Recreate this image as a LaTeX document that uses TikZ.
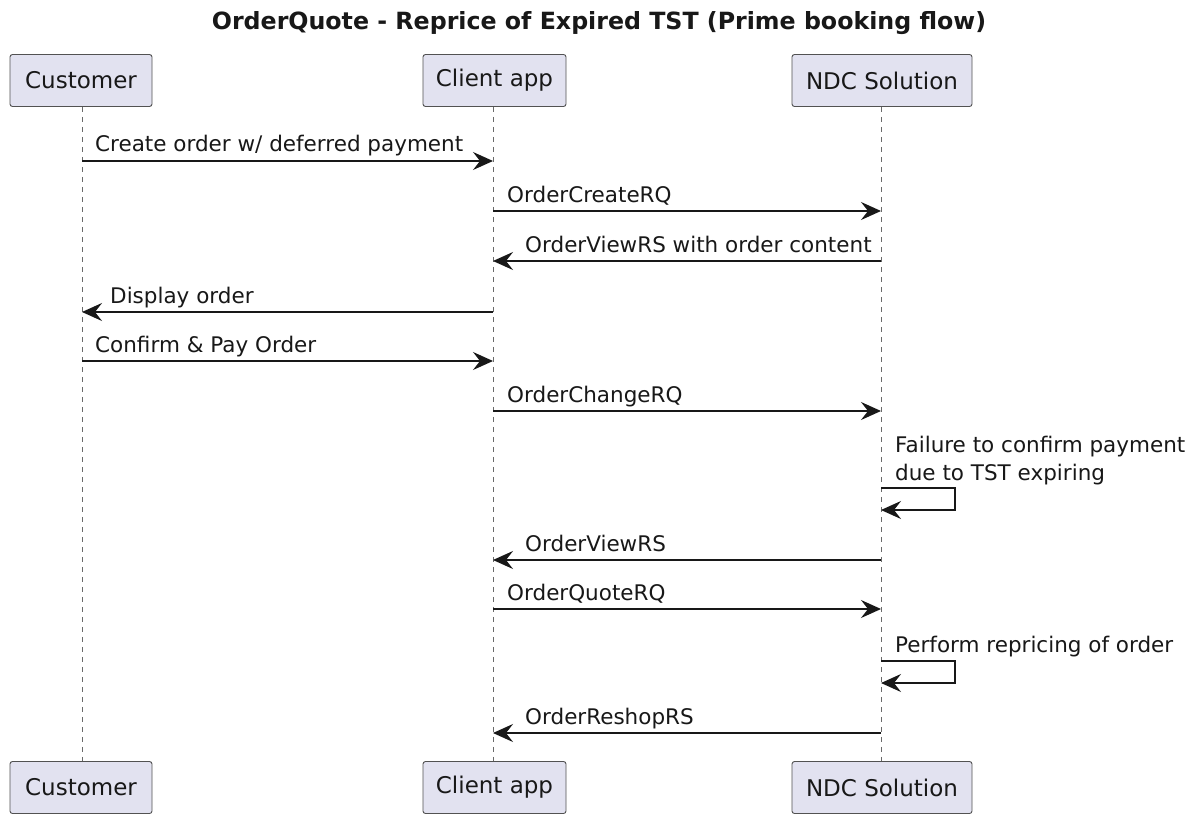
\documentclass[tikz,border=0pt]{standalone}
\usepackage{fontspec}
\setmainfont{DejaVu Sans}
\usetikzlibrary{arrows.meta}
\definecolor{pfill}{HTML}{E2E2F0}
\definecolor{pline}{HTML}{181818}
\tikzset{
  part/.style={draw=pline!75, line width=0.9pt, fill=pfill, rounded corners=2.5pt,
    minimum height=52pt, inner sep=0pt, font=\fontsize{23}{27}\selectfont, text=pline},
  life/.style={draw=pline!65, line width=0.9pt, dash pattern=on 5pt off 5pt},
  msg/.style={draw=pline, line width=1.4pt, -{Stealth[length=20pt,width=18pt,inset=7pt]}},
  lbl/.style={font=\fontsize{21.5}{28}\selectfont, text=pline, inner sep=0pt, anchor=base west, align=left},
}
\begin{document}
\begin{tikzpicture}[x=1pt,y=-1pt]
\path[use as bounding box, fill=white] (0,0) rectangle (1198,813);
\node[font=\fontsize{23.7}{28}\selectfont\bfseries, text=pline, inner sep=0pt, anchor=base] (title) at (599,30) {OrderQuote - Reprice of Expired TST (Prime booking flow)};
% participants
\node[part, minimum width=142pt] (cust) at (81,80.5) {Customer};
\node[part, minimum width=143pt] (cli) at (494.5,80.5) {Client app};
\node[part, minimum width=180pt] (ndc) at (882,80.5) {NDC Solution};
\node[part, minimum width=142pt] (cust2) at (81,787.5) {Customer};
\node[part, minimum width=143pt] (cli2) at (494.5,787.5) {Client app};
\node[part, minimum width=180pt] (ndc2) at (882,787.5) {NDC Solution};
% lifelines
\draw[life] (cust.south -| 82,0) -- (cust2.north -| 82,0);
\draw[life] (cli.south -| 493,0) -- (cli2.north -| 493,0);
\draw[life] (ndc.south -| 881,0) -- (ndc2.north -| 881,0);
% message coordinates
\coordinate (m1a) at (82,161);  \coordinate (m1b) at (493,161);
\coordinate (m2a) at (493,211); \coordinate (m2b) at (881,211);
\coordinate (m3a) at (881,261); \coordinate (m3b) at (493,261);
\coordinate (m4a) at (493,312); \coordinate (m4b) at (82,312);
\coordinate (m5a) at (82,361);  \coordinate (m5b) at (493,361);
\coordinate (m6a) at (493,411); \coordinate (m6b) at (881,411);
\coordinate (s1a) at (881,488); \coordinate (s1b) at (881,510);
\coordinate (m7a) at (881,560); \coordinate (m7b) at (493,560);
\coordinate (m8a) at (493,609); \coordinate (m8b) at (881,609);
\coordinate (s2a) at (881,661); \coordinate (s2b) at (881,683);
\coordinate (m9a) at (881,733); \coordinate (m9b) at (493,733);
% messages
\draw[msg] (m1a) -- (m1b);
\node[lbl] (l1) at (95,152) {Create order w/ deferred payment};
\draw[msg] (m2a) -- (m2b);
\node[lbl] (l2) at (507,202) {OrderCreateRQ};
\draw[msg] (m3a) -- (m3b);
\node[lbl] (l3) at (525,252) {OrderViewRS with order content};
\draw[msg] (m4a) -- (m4b);
\node[lbl] (l4) at (110,303) {Display order};
\draw[msg] (m5a) -- (m5b);
\node[lbl] (l5) at (95,352) {Confirm \& Pay Order};
\draw[msg] (m6a) -- (m6b);
\node[lbl] (l6) at (507,402) {OrderChangeRQ};
\draw[msg] (s1a) -- ++(74,0) |- (s1b);
\node[lbl] (l7) at (895,480) {Failure to confirm payment\\due to TST expiring};
\draw[msg] (m7a) -- (m7b);
\node[lbl] (l8) at (525,551) {OrderViewRS};
\draw[msg] (m8a) -- (m8b);
\node[lbl] (l9) at (507,600) {OrderQuoteRQ};
\draw[msg] (s2a) -- ++(74,0) |- (s2b);
\node[lbl] (l10) at (895,652) {Perform repricing of order};
\draw[msg] (m9a) -- (m9b);
\node[lbl] (l11) at (525,724) {OrderReshopRS};
\end{tikzpicture}
\end{document}
